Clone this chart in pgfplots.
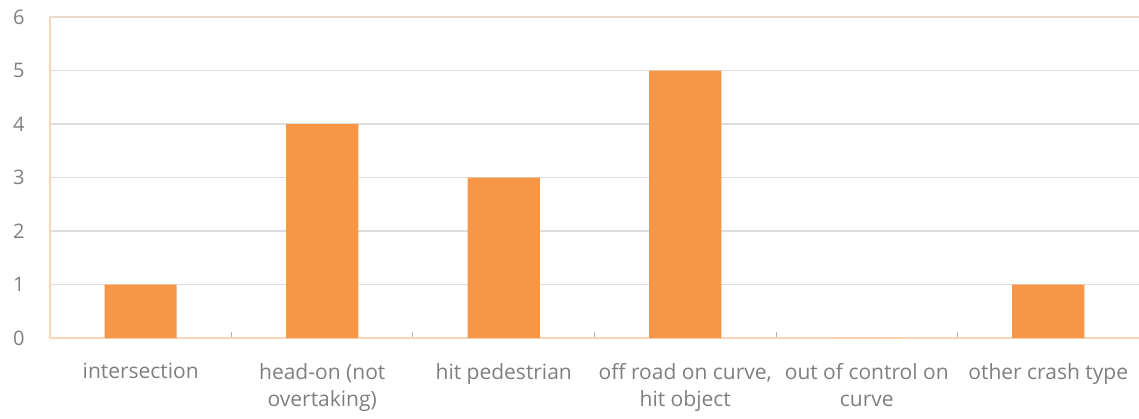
\documentclass[border=0pt]{standalone}
\usepackage{fontspec}
\setmainfont{Open Sans}
\usepackage{pgfplots}
\pgfplotsset{compat=1.18}
\definecolor{barc}{HTML}{F79646}
\definecolor{gridc}{HTML}{DDDDDD}
\definecolor{axl}{HTML}{F9D6B8}
\definecolor{txt}{HTML}{7F7F7F}
\begin{document}
\begin{tikzpicture}
\begin{axis}[
  at={(0,0)}, anchor=south west,
  scale only axis, width=544.5pt, height=160.5pt,
  xmin=-0.5, xmax=5.5, ymin=0, ymax=6,
  axis lines=left, axis line style={-, draw=axl, line width=0.8pt},
  ytick={0,...,6}, ymajorgrids, grid style={draw=gridc, line width=0.6pt},
  ytick style={draw=none},
  xtick={0,...,5},
  xticklabels={intersection, {head-on (not\\overtaking)}, hit pedestrian, {off road on curve,\\hit object}, {out of control on\\curve}, other crash type},
  major x tick style={draw=none},
  minor xtick={0.5,1.5,2.5,3.5,4.5},
  minor tick length=3pt, xtick align=inside,
  minor x tick style={draw=gray!60, line width=0.5pt},
  xticklabel style={font=\fontsize{10.5}{13.5}\selectfont, text=txt, align=center, anchor=north, yshift=-9pt},
  yticklabel style={font=\fontsize{10}{12}\selectfont, text=txt, anchor=east, xshift=-7pt},
  /pgf/number format/assume math mode=true,
]
\addplot[ybar, bar width=36pt, fill=barc, draw=none] coordinates {(0,1) (1,4) (2,3) (3,5) (4,0) (5,1)};
\draw[axl, line width=0.6pt] (axis cs:-0.5,6) -- (axis cs:5.5,6);
\end{axis}
\pgfresetboundingbox
\path[use as bounding box] (-25pt,-40pt) rectangle (544.5pt,169pt);
\end{tikzpicture}
\end{document}
